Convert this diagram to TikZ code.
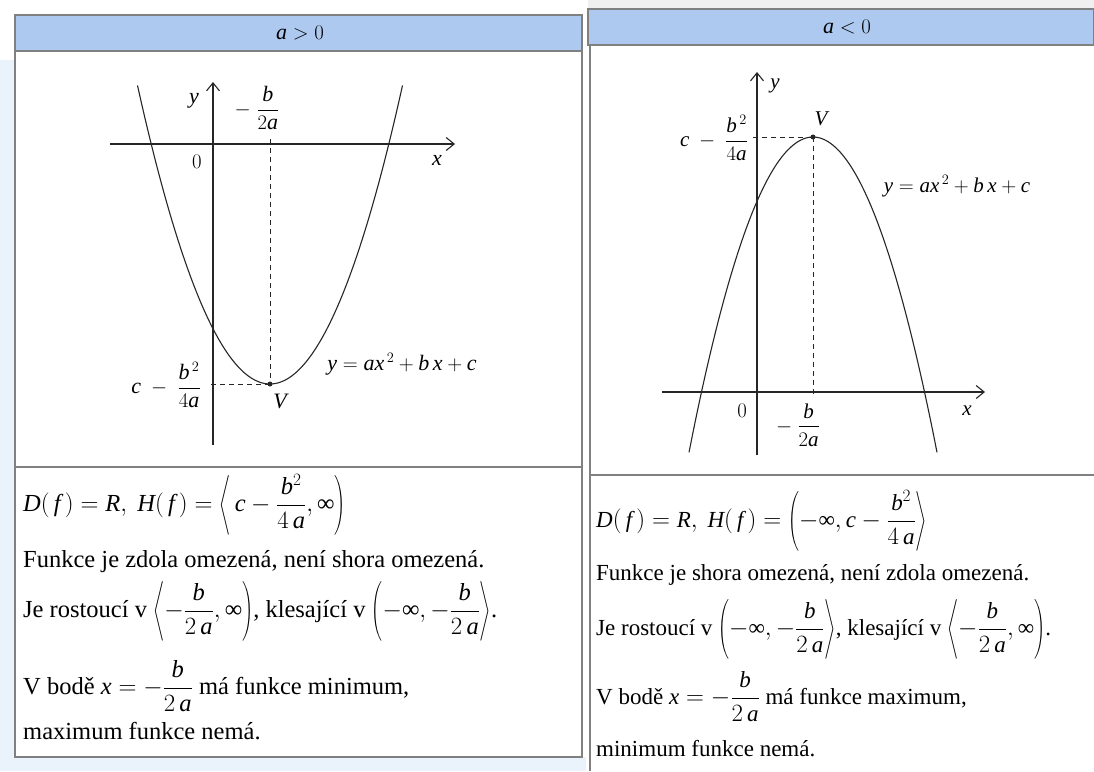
\documentclass[tikz,border=0pt]{standalone}
\usepackage{amsmath}
\usepackage{graphicx}
\usepackage{fontspec}
\setmainfont{Liberation Serif}
\edef\tmsfam{\rmdefault}
\DeclareSymbolFont{tletters}{TU}{\tmsfam}{m}{it}
\DeclareSymbolFont{tdigits}{TU}{\tmsfam}{m}{n}
\newcount\lcnt
\lcnt=`a
\loop \Umathcode\lcnt="7 \symtletters\lcnt \ifnum\lcnt<`z \advance\lcnt by 1 \repeat
\lcnt=`A
\loop \Umathcode\lcnt="7 \symtletters\lcnt \ifnum\lcnt<`Z \advance\lcnt by 1 \repeat
\lcnt=`0
\loop \Umathcode\lcnt="0 \symtdigits\lcnt \ifnum\lcnt<`9 \advance\lcnt by 1 \repeat
\Umathcode`(="4 \symtdigits`(
\Umathcode`)="5 \symtdigits`)
\newcommand{\inft}{\mathord{\textup{∞}}}
\newcommand{\bral}[2]{\mathopen{\scalebox{#2}[1]{$\nulldelimiterspace=0pt\displaystyle\left#1\vphantom{\dfrac{b^2}{4a}}\right.$}}}
\newcommand{\brar}[2]{\mathclose{\scalebox{#2}[1]{$\nulldelimiterspace=0pt\displaystyle\left.\vphantom{\dfrac{b^2}{4a}}\right#1$}}}
\usetikzlibrary{arrows.meta}
\definecolor{bandblue}{RGB}{174,201,240}
\definecolor{framegray}{RGB}{128,128,128}
\definecolor{scanblue}{RGB}{234,242,251}
\begin{document}
\begin{tikzpicture}[x=1pt,y=-1pt,
  frame/.style={draw=framegray,line width=1.3pt},
  band/.style={fill=bandblue,draw=framegray,line width=1.1pt},
  axis/.style={draw=black!85,line width=1.1pt,-{Straight Barb[length=8pt,width=13pt]}},
  guide/.style={draw=black!85,line width=0.9pt,dash pattern=on 5pt off 4pt},
  curve/.style={draw=black!85,line width=1.1pt},
  vdot/.style={circle,fill=black!85,inner sep=0pt,minimum size=5pt},
  lbl/.style={inner sep=0pt,font=\fontsize{22}{26}\selectfont},
  lblr/.style={inner sep=0pt,font=\fontsize{21}{25}\selectfont},
  txtl/.style={anchor=west,inner sep=0pt,font=\fontsize{24.5}{29}\selectfont},
  txtr/.style={anchor=west,inner sep=0pt,font=\fontsize{23}{27}\selectfont}]
\useasboundingbox (0,0) rectangle (1094,771);
% background of the scan
\fill[white] (0,0) rectangle (1094,771);
\fill[scanblue] (0,60) rectangle (14,771);
\fill[scanblue] (0,757) rectangle (586,771);
\fill[black!6] (588,0) rectangle (1094,9);

% ---------------- left panel ----------------
\draw[band] (15,15) rectangle (582,51);
\node[lbl] (lhead) at (300,33) {$a>0$};
\draw[frame] (15,51) -- (15,757) -- (582,757) -- (582,51);
\draw[frame] (15,467) -- (582,467);

% axes
\coordinate (lxs) at (110,144); \coordinate (lxe) at (455,144);
\coordinate (lys) at (213,445); \coordinate (lye) at (213,82);
\draw[axis] (lxs) -- (lxe);
\draw[axis] (lys) -- (lye);
% guides
\coordinate (lV) at (270,384);
\coordinate (lvt) at (270,139);
\coordinate (lhl) at (211,384);
\draw[guide] (lvt) -- (lV);
\draw[guide] (lhl) -- (lV);
% parabola
\draw[curve] plot[domain=137.5:402.5,samples=80,smooth] (\x,{384-(0.1304*(\x-270))^2});
\node[vdot] (lVd) at (lV) {};
% labels
\node[lbl] (ly) at (194,101) {$y$};
\node[lbl] (lb) at (257,108) {$-\ \dfrac{b}{2a}$};
\node[lbl] (l0) at (197,162) {$0$};
\node[lbl] (lx) at (437,160) {$x$};
\node[lbl] (lc) at (166,385) {$c\ -\ \dfrac{b^{\,2}}{4a}$};
\node[lbl] (lVl) at (280,401) {$V$};
\node[lbl] (leq) at (402,364) {$y = ax^{\,2} + b\,x + c$};

% text
\node[txtl] (lt1) at (23,505) {$D(\,f\,)=R,\ H(\,f\,)=\bral\langle{0.6}\, c-\dfrac{b^2}{4\,a}, \inft\brar){0.6}$};
\node[txtl] (lt2) at (23,562) {Funkce je zdola omezená, není shora omezená.};
\node[txtl] (lt3) at (23,611) {Je rostoucí v $\bral\langle{0.6}{-\dfrac{b}{2\,a}}, \inft\brar){0.6}$, klesající v $\bral({0.6}{-\inft}, -\dfrac{b}{2\,a}\brar\rangle{0.6}$.};
\node[txtl] (lt4) at (23,686) {V bodě $x=-\dfrac{b}{2\,a}$ má funkce minimum,};
\node[txtl] (lt5) at (23,731) {maximum funkce nemá.};

% ---------------- right panel ----------------
\draw[band] (588,9) rectangle (1094,45);
\node[lbl] (rhead) at (847,27) {$a<0$};
\draw[frame] (590,45) -- (590,771);
\draw[frame] (590,475) -- (1094,475);

% axes
\coordinate (rxs) at (662,392); \coordinate (rxe) at (985,392);
\coordinate (rys) at (757,455); \coordinate (rye) at (757,72);
\draw[axis] (rxs) -- (rxe);
\draw[axis] (rys) -- (rye);
% guides
\coordinate (rV) at (813,137);
\coordinate (rvb) at (813,395);
\coordinate (rhl) at (753,137);
\draw[guide] (rV) -- (rvb);
\draw[guide] (rhl) -- (rV);
% parabola
\draw[curve] plot[domain=689:937,samples=80,smooth] (\x,{137+(0.1432*(\x-813))^2});
\node[vdot] (rVd) at (rV) {};
% labels
\node[lblr] (ry) at (775,86) {$y$};
\node[lblr] (rVl) at (821,119) {$V$};
\node[lblr] (rc) at (714,138) {$c\ -\ \dfrac{b^{\,2}}{4a}$};
\node[lblr] (req) at (957,186) {$y = ax^{\,2} + b\,x + c$};
\node[lblr] (r0) at (742,411) {$0$};
\node[lblr] (rb) at (798,425) {$-\ \dfrac{b}{2a}$};
\node[lblr] (rx) at (967,411) {$x$};

% text
\node[txtr] (rt1) at (596,521) {$D(\,f\,)=R,\ H(\,f\,)=\bral({0.6}{-\inft}, c-\dfrac{b^2}{4\,a}\brar\rangle{0.6}$};
\node[txtr] (rt2) at (596,575) {Funkce je shora omezená, není zdola omezená.};
\node[txtr] (rt3) at (596,629) {Je rostoucí v $\bral({0.6}{-\inft}, -\dfrac{b}{2\,a}\brar\rangle{0.6}$, klesající v $\bral\langle{0.6}{-\dfrac{b}{2\,a}}, \inft\brar){0.6}$.};
\node[txtr] (rt4) at (596,697) {V bodě $x=-\dfrac{b}{2\,a}$ má funkce maximum,};
\node[txtr] (rt5) at (596,749) {minimum funkce nemá.};
\end{tikzpicture}
\end{document}
